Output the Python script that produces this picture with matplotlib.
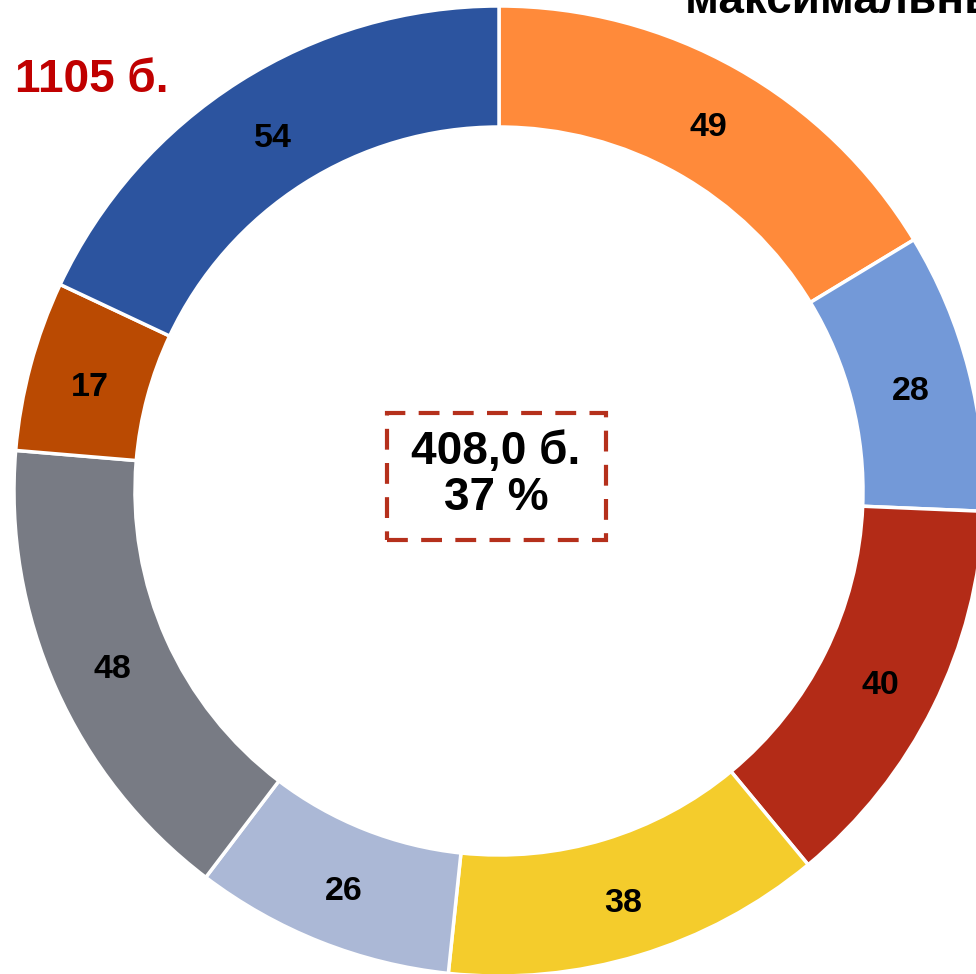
import matplotlib
matplotlib.use("Agg")
import matplotlib.pyplot as plt
from matplotlib.patches import Rectangle

plt.rcParams['font.family'] = ['Liberation Sans', 'DejaVu Sans']

# segment values, clockwise from the top
values = [49, 28, 40, 38, 26, 48, 17, 54]
colors = ['#FF8A3A', '#7399D8', '#B32B17', '#F4CC2C',
          '#ABB8D6', '#787B84', '#BA4A02', '#2C549F']
labels = [str(v) for v in values]

total_text = "1105 б."
center_text = "408,0 б.\n37 %"
title_text = "максимальный балл"

W, H = 976, 974
fig = plt.figure(figsize=(W / 100, H / 100), dpi=100)
ax = fig.add_axes([0, 0, 1, 1])

cx, cy = 499, H - 491
r_out = 485
ring = 121

wedges, texts = ax.pie(
    values, colors=colors, startangle=90, counterclock=False,
    center=(cx, cy), radius=r_out, labels=labels,
    labeldistance=(r_out - ring / 2) / r_out,
    wedgeprops=dict(width=ring, edgecolor='white', linewidth=2.5),
    textprops=dict(fontsize=24.5, fontweight='bold', color='black',
                   ha='center', va='center'),
    frame=True,
)
# nudge the value labels down a bit
for t in texts:
    x, y = t.get_position()
    t.set_position((x + 1, y - 6))

ax.set_xlim(0, W)
ax.set_ylim(0, H)
ax.set_aspect('equal')
ax.axis('off')

# dashed box in the middle
ax.add_patch(Rectangle((387, H - 540), 219, 127, fill=False,
                       edgecolor='#B5301C', linewidth=3,
                       linestyle=(0, (5, 3.2))))
ax.text(496, H - 475, center_text, ha='center', va='center',
        fontsize=33, fontweight='bold', color='black', linespacing=1.08)

ax.text(15, H - 92, total_text, ha='left', va='baseline',
        fontsize=33, fontweight='bold', color='#C00000')

ax.text(685, H - 13, title_text, ha='left', va='baseline',
        fontsize=33, fontweight='bold', color='black')

fig.savefig('out.png', dpi=100)
